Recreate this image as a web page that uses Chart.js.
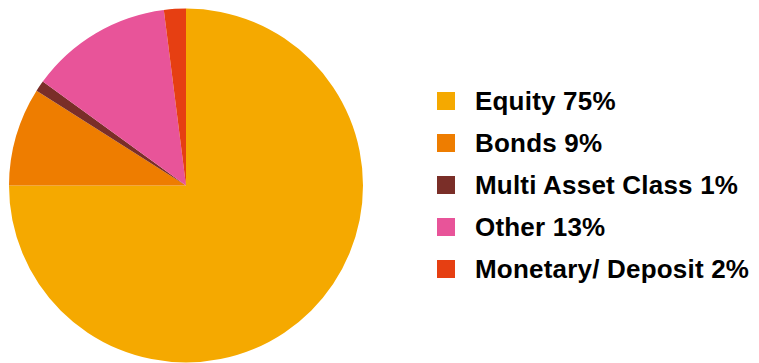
<!DOCTYPE html>
<html>
<head>
<meta charset="utf-8">
<script src="https://cdn.jsdelivr.net/npm/chart.js@4/dist/chart.umd.min.js"></script>
<style>
  html, body { margin: 0; padding: 0; background: #fff; }
  #wrap { position: relative; width: 759px; height: 363px; overflow: hidden; }
  #pieBox { position: absolute; left: 0; top: 0; width: 372px; height: 363px; }
  #legend { position: absolute; left: 437px; top: 80px; font-family: "Liberation Sans", Arial, sans-serif;
            font-weight: bold; font-size: 26px; letter-spacing: 0.2px; color: #000; }
  .row { display: flex; align-items: center; height: 42px; white-space: nowrap; }
  .sw { width: 18px; height: 18px; margin-right: 20px; flex: none; }
</style>
</head>
<body>
<div id="wrap">
  <div id="pieBox"><canvas id="allocChart"></canvas></div>
  <div id="legend"></div>
</div>
<script>
// asset allocation, in percent
const categories = ['Equity', 'Bonds', 'Multi Asset Class', 'Other', 'Monetary/ Deposit'];
const shares     = [75, 9, 1, 13, 2];
const colors     = ['#F5A900', '#EE7D00', '#7A2E28', '#E85499', '#E63F12'];

// legend built from the same arrays
const legend = document.getElementById('legend');
categories.forEach((name, i) => {
  const row = document.createElement('div');
  row.className = 'row';
  row.innerHTML = `<span class="sw" style="background:${colors[i]}"></span><span>${name} ${shares[i]}%</span>`;
  legend.appendChild(row);
});

new Chart(document.getElementById('allocChart'), {
  type: 'pie',
  data: {
    labels: categories,
    datasets: [{ data: shares, backgroundColor: colors, borderWidth: 0 }]
  },
  options: {
    responsive: true,
    maintainAspectRatio: false,
    animation: false,
    layout: { padding: { left: 9, right: 9, top: 8, bottom: 0 } },
    plugins: { legend: { display: false }, tooltip: { enabled: false } }
  }
});
</script>
</body>
</html>
